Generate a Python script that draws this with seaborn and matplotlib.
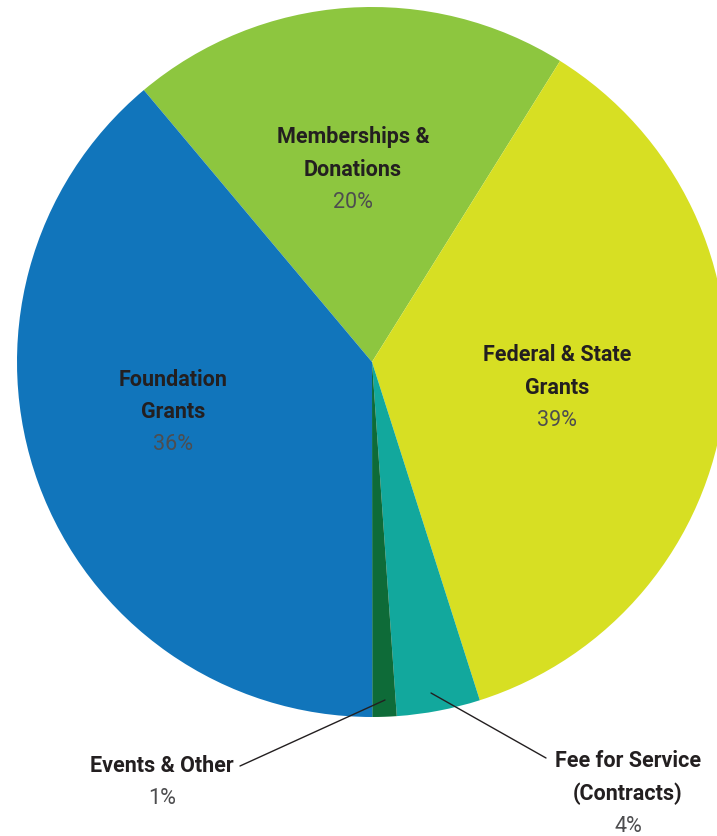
import matplotlib
matplotlib.use("Agg")
import matplotlib.pyplot as plt
import seaborn as sns

# Revenue sources, in pie order (clockwise from the top-left boundary)
categories = ["Memberships &\nDonations", "Federal & State\nGrants", "Fee for Service\n(Contracts)",
              "Events & Other", "Foundation\nGrants"]
shares = [20.0, 36.2, 3.8, 1.1, 38.9]  # slice sizes
pct_labels = ["20%", "39%", "4%", "1%", "36%"]
colors = ["#8DC63F", "#D7DF23", "#12A89D", "#0E6B38", "#1175BB"]

sns.set_theme(style="white")
plt.rcParams["font.family"] = ["Roboto", "DejaVu Sans"]

W, H = 717, 836
fig = plt.figure(figsize=(W / 100, H / 100), dpi=100)
ax = fig.add_axes([0, 0, 1, 1])

# pie drawn in pixel coordinates (y measured from the top of the picture)
cx, cy, r = 372, 362, 355
ax.pie(shares, colors=colors, startangle=130, counterclock=False,
       center=(cx, H - cy), radius=r, wedgeprops=dict(linewidth=0))
ax.set_xlim(0, W)
ax.set_ylim(0, H)
ax.set_aspect("auto")
ax.axis("off")

# label placement (pixel positions of the first line, from the top)
label_pos = [(353, 137), (557, 355), (628, 761), (162, 766), (173, 380)]
line_gap = 32.5

for name, pct, (x, y) in zip(categories, pct_labels, label_pos):
    lines = name.split("\n")
    for i, line in enumerate(lines):
        ax.text(x, H - (y + i * line_gap), line, ha="center", va="center",
                fontsize=15.5, fontweight="bold", color="#231F20")
    ax.text(x, H - (y + len(lines) * line_gap), pct, ha="center", va="center",
            fontsize=15.5, fontweight="normal", color="#4D4D4F")

# leader lines for the two thin slices
ax.plot([385, 240], [H - 700, H - 766], color="#231F20", lw=1)
ax.plot([431, 546], [H - 693, H - 758], color="#231F20", lw=1)

fig.savefig("out.png", dpi=100)
